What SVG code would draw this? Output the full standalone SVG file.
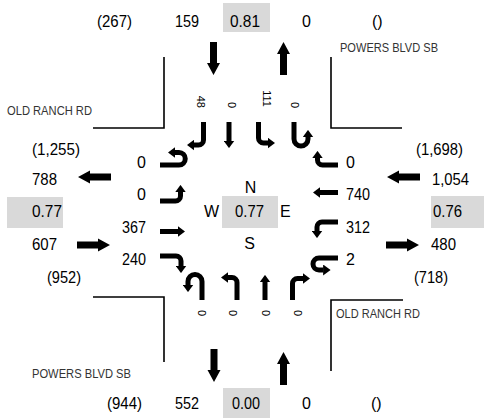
<svg xmlns="http://www.w3.org/2000/svg" xmlns:xlink="http://www.w3.org/1999/xlink" width="484" height="418" viewBox="0 0 484 418">
<style>
text{font-family:"Liberation Sans",Arial,sans-serif;fill:#000}
.n{font-size:16px}
.road{font-size:13px;fill:#333}
.rot{font-size:11px}
.box{fill:#d9d9d9}
.edge{stroke:#000;stroke-width:1.6;fill:none}
.lane{stroke:#000;stroke-width:5;fill:none;marker-end:url(#ah)}
</style>
<defs>
<marker id="ah" markerUnits="userSpaceOnUse" markerWidth="7.5" markerHeight="11" viewBox="0 0 7.5 11" refX="0.4" refY="5.5" orient="auto"><path d="M0,0 L7.5,5.5 L0,11 z" fill="#000"/></marker>
<path id="big" d="M0,0 L-12,-6.5 L-12,-3.5 L-33,-3.5 L-33,3.5 L-12,3.5 L-12,6.5 Z" fill="#000"/>
</defs>
<rect width="484" height="418" fill="#fff"/>

<g id="road-edges">
<path class="edge" d="M93,128 H164 V57"/>
<path class="edge" d="M402,128 H331 V57"/>
<path class="edge" d="M93,297 H164 V362"/>
<path class="edge" d="M403,300 H331 V371"/>
</g>

<g id="north">
<rect class="box" x="223" y="3" width="47" height="29"/>
<text class="n" x="97" y="27" textLength="35" lengthAdjust="spacingAndGlyphs">(267)</text>
<text class="n" x="175" y="27" textLength="24" lengthAdjust="spacingAndGlyphs">159</text>
<text class="n" x="230" y="27" textLength="30" lengthAdjust="spacingAndGlyphs">0.81</text>
<text class="n" x="302" y="27">0</text>
<text class="n" x="372" y="27">()</text>
<text class="road" x="340" y="52" textLength="98" lengthAdjust="spacingAndGlyphs">POWERS BLVD SB</text>
<text class="rot" text-anchor="end" transform="translate(197,108) rotate(90)">48</text>
<text class="rot" text-anchor="end" transform="translate(228,108) rotate(90)">0</text>
<text class="rot" text-anchor="end" transform="translate(263,107) rotate(90)">111</text>
<text class="rot" text-anchor="end" transform="translate(291,108) rotate(90)">0</text>
<path class="lane" d="M203.5,122 V140 A5,5 0 0 1 198.5,145 H194"/>
<path class="lane" d="M229,122 V141"/>
<path class="lane" d="M258.5,122 V138 A5,5 0 0 0 263.5,143 H268"/>
<path class="lane" d="M294,122 V139 A7,7 0 0 0 308,139 V137"/>
</g>

<g id="west">
<rect class="box" x="7" y="197" width="56" height="31"/>
<text class="n" x="32" y="155" textLength="48" lengthAdjust="spacingAndGlyphs">(1,255)</text>
<text class="n" x="32" y="185" textLength="25" lengthAdjust="spacingAndGlyphs">788</text>
<text class="n" x="32" y="217" textLength="30" lengthAdjust="spacingAndGlyphs">0.77</text>
<text class="n" x="32" y="250" textLength="25" lengthAdjust="spacingAndGlyphs">607</text>
<text class="n" x="47" y="283" textLength="34" lengthAdjust="spacingAndGlyphs">(952)</text>
<text class="road" x="7" y="115" textLength="85" lengthAdjust="spacingAndGlyphs">OLD RANCH RD</text>
<text class="n" x="146" y="168" text-anchor="end">0</text>
<text class="n" x="146" y="200" text-anchor="end">0</text>
<text class="n" x="146" y="233" text-anchor="end" textLength="24" lengthAdjust="spacingAndGlyphs">367</text>
<text class="n" x="146" y="265" text-anchor="end" textLength="24" lengthAdjust="spacingAndGlyphs">240</text>
<path class="lane" d="M160,165 H179 A6.25,6.25 0 0 0 179,152.5 H175"/>
<path class="lane" d="M160,201 H175.5 A5,5 0 0 0 180.5,196 V192"/>
<path class="lane" d="M160,231.5 H178"/>
<path class="lane" d="M160,256 H176 A5,5 0 0 1 181,261 V266"/>
</g>

<g id="east">
<rect class="box" x="431" y="196" width="53" height="32"/>
<text class="n" x="416" y="155" textLength="47" lengthAdjust="spacingAndGlyphs">(1,698)</text>
<text class="n" x="432" y="185" textLength="37" lengthAdjust="spacingAndGlyphs">1,054</text>
<text class="n" x="433" y="217" textLength="29" lengthAdjust="spacingAndGlyphs">0.76</text>
<text class="n" x="431" y="250" textLength="25" lengthAdjust="spacingAndGlyphs">480</text>
<text class="n" x="414" y="283" textLength="34" lengthAdjust="spacingAndGlyphs">(718)</text>
<text class="road" x="336" y="318" textLength="84" lengthAdjust="spacingAndGlyphs">OLD RANCH RD</text>
<text class="n" x="346" y="168">0</text>
<text class="n" x="346" y="200" textLength="24" lengthAdjust="spacingAndGlyphs">740</text>
<text class="n" x="346" y="233" textLength="24" lengthAdjust="spacingAndGlyphs">312</text>
<text class="n" x="346" y="265">2</text>
<path class="lane" d="M338,165 H322.5 A5,5 0 0 1 317.5,160 V158"/>
<path class="lane" d="M338,192.5 H320"/>
<path class="lane" d="M338,222 H322 A5,5 0 0 0 317,227 V231"/>
<path class="lane" d="M338,258 H319 A6,6 0 0 0 319,270 H323.5"/>
</g>

<g id="south">
<rect class="box" x="223" y="388" width="47" height="30"/>
<text class="n" x="107" y="409" textLength="35" lengthAdjust="spacingAndGlyphs">(944)</text>
<text class="n" x="175" y="409" textLength="24" lengthAdjust="spacingAndGlyphs">552</text>
<text class="n" x="232" y="409" textLength="28" lengthAdjust="spacingAndGlyphs">0.00</text>
<text class="n" x="302" y="409">0</text>
<text class="n" x="371" y="409">()</text>
<text class="road" x="32" y="378" textLength="99" lengthAdjust="spacingAndGlyphs">POWERS BLVD SB</text>
<text class="rot" transform="translate(197.5,310) rotate(90)">0</text>
<text class="rot" transform="translate(228.5,310) rotate(90)">0</text>
<text class="rot" transform="translate(262,310) rotate(90)">0</text>
<text class="rot" transform="translate(293.5,310) rotate(90)">0</text>
<path class="lane" d="M202,300 V281.5 A7,7 0 0 0 188,281.5 V285"/>
<path class="lane" d="M237,300 V282.5 A5,5 0 0 0 232,277.5 H228"/>
<path class="lane" d="M265,300 V282"/>
<path class="lane" d="M292.5,300 V283.5 A5,5 0 0 1 297.5,278.5 H303"/>
</g>

<g id="center">
<rect class="box" x="222" y="196" width="56" height="32"/>
<text class="n" x="250.5" y="193" text-anchor="middle">N</text>
<text class="n" x="204" y="217">W</text>
<text class="n" x="235" y="217" textLength="29" lengthAdjust="spacingAndGlyphs">0.77</text>
<text class="n" x="280" y="217">E</text>
<text class="n" x="249.5" y="249" text-anchor="middle">S</text>
</g>

<g id="connectors">
<use xlink:href="#big" transform="translate(213.5,75) rotate(90)"/>
<use xlink:href="#big" transform="translate(283.5,42) rotate(-90)"/>
<use xlink:href="#big" transform="translate(214,382) rotate(90)"/>
<use xlink:href="#big" transform="translate(283.5,352) rotate(-90)"/>
<use xlink:href="#big" transform="translate(78,177) rotate(180)"/>
<use xlink:href="#big" transform="translate(110,245)"/>
<use xlink:href="#big" transform="translate(387,177) rotate(180)"/>
<use xlink:href="#big" transform="translate(419,245)"/>
</g>
</svg>
